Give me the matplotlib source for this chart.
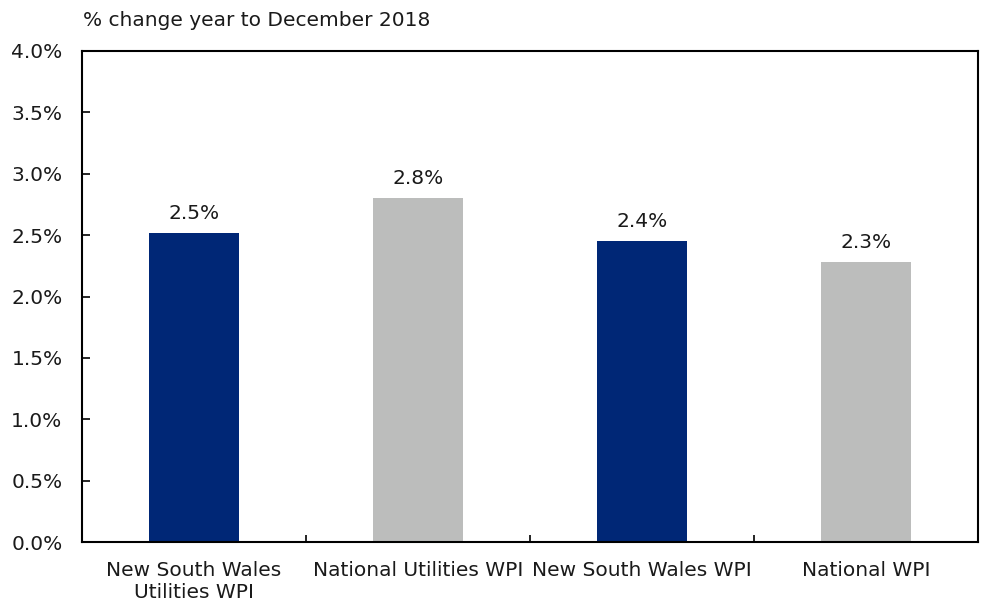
import matplotlib.pyplot as plt
from matplotlib import ticker

categories = ["New South Wales\nUtilities WPI", "National Utilities WPI",
              "New South Wales WPI", "National WPI"]
values = [2.52, 2.80, 2.45, 2.28]
value_labels = ["2.5%", "2.8%", "2.4%", "2.3%"]
colors = ["#002776", "#BCBDBC", "#002776", "#BCBDBC"]

FS = 14.5
plt.rcParams['font.family'] = ['DejaVu Sans']
fig = plt.figure(figsize=(9.86, 6.08), dpi=100)
ax = fig.add_axes([82 / 986, 1 - 542 / 608, 896 / 986, 491 / 608])

x = range(len(categories))
ax.bar(x, values, width=0.40, color=colors)
for i, (v, lab) in enumerate(zip(values, value_labels)):
    ax.text(i, v + 0.08, lab, ha='center', va='bottom', fontsize=FS, color='#1a1a1a')

ax.set_xlim(-0.5, len(categories) - 0.5)
ax.set_ylim(0, 4.0)
ax.yaxis.set_major_locator(ticker.MultipleLocator(0.5))
ax.yaxis.set_major_formatter(ticker.FuncFormatter(lambda y, pos: f"{y:.1f}%"))

ax.set_xticks([i + 0.5 for i in range(len(categories) - 1)])
ax.set_xticklabels([])
ax.set_xticks(list(x), minor=True)
ax.set_xticklabels(categories, minor=True, fontsize=FS, color='#1a1a1a', linespacing=1.2)
ax.tick_params(axis='x', which='minor', length=0, pad=14)
ax.tick_params(axis='x', which='major', direction='in', length=5, width=1.2)
ax.tick_params(axis='y', direction='in', length=6, width=1.2, labelsize=FS,
               labelcolor='#1a1a1a', pad=14)

for s in ax.spines.values():
    s.set_linewidth(1.5)
    s.set_color('black')

fig.text(83 / 986, 1 - 20 / 608, "% change year to December 2018", fontsize=FS,
         color='#1a1a1a', va='center', ha='left')

fig.savefig("out.png", dpi=100)
